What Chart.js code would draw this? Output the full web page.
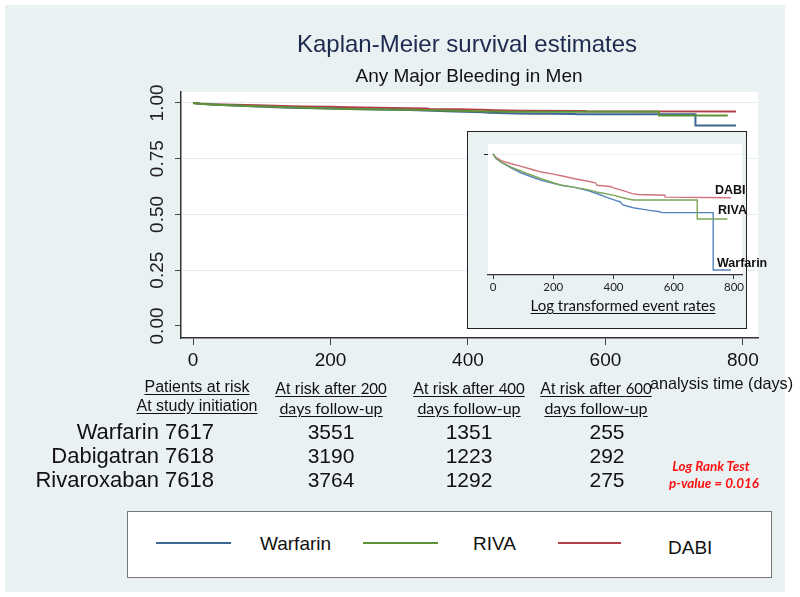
<!DOCTYPE html>
<html>
<head>
<meta charset="utf-8">
<script src="https://cdn.jsdelivr.net/npm/chart.js@4.4.1/dist/chart.umd.min.js"></script>
<style>
  html, body { margin:0; padding:0; background:#ffffff; }
  body { width:800px; height:597px; position:relative; overflow:hidden; font-family:"Liberation Sans", Arial, sans-serif; color:#111; }
  .abs { position:absolute; white-space:nowrap; }
  #bg { position:absolute; left:5px; top:5px; width:780px; height:587px; background:#eaf1f3; }
  #mainCanvas { position:absolute; left:0; top:0; }
  #insetBox { position:absolute; left:467px; top:131px; width:278px; height:196px; border:1.5px solid #222; background:#eaf1f3; }
  #insetCanvas { position:absolute; left:468px; top:132px; }
  .hdr { font-size:16px; text-decoration:underline; text-underline-offset:2px; transform:translateX(-50%); }
  .num { font-size:21px; transform:translate(-50%,-50%); }
  .cal { font-family:Lato, "Open Sans", sans-serif; font-size:15px; }
  #legendBox { position:absolute; left:127px; top:511px; width:643px; height:65px; border:1px solid #777; background:#fff; }
  .legLine { position:absolute; height:2px; }
  .legText { position:absolute; font-size:19px; transform:translateY(-50%); }
  .inLab { position:absolute; font-weight:bold; font-size:12.5px; transform:translateY(-50%); color:#111; }
</style>
</head>
<body>
<div id="bg"></div>
<canvas id="mainCanvas" width="800" height="597"></canvas>
<div id="insetBox"></div>
<canvas id="insetCanvas" width="278" height="196"></canvas>

<div class="abs" style="left:467px;top:44px;transform:translate(-50%,-50%);font-size:24px;color:#1c2a4d;">Kaplan-Meier survival estimates</div>
<div class="abs" style="left:469px;top:76px;transform:translate(-50%,-50%);font-size:19px;color:#111;">Any Major Bleeding in Men</div>

<div id="table"></div>

<div class="abs" style="left:650px;top:383px;transform:translateY(-50%);font-size:16.2px;">analysis time (days)</div>

<div class="abs" style="left:711px;top:466px;transform:translate(-50%,-50%);font-family:Lato,'Open Sans',sans-serif;font-weight:bold;font-style:italic;font-size:13.5px;color:#ff1010;">Log Rank Test</div>
<div class="abs" style="left:714px;top:483px;transform:translate(-50%,-50%);font-family:Lato,'Open Sans',sans-serif;font-weight:bold;font-style:italic;font-size:13.5px;color:#ff1010;">p-value = 0.016</div>

<div class="abs" style="left:623px;top:305px;transform:translate(-50%,-50%);font-family:Lato,'Open Sans',sans-serif;font-size:15px;text-decoration:underline;text-underline-offset:2px;">Log transformed event rates</div>

<div class="inLab" style="left:715px;top:190px;">DABI</div>
<div class="inLab" style="left:718px;top:210px;">RIVA</div>
<div class="inLab" style="left:717px;top:263px;">Warfarin</div>

<div id="legendBox"></div>
<div id="legend"></div>

<script>
// ---------- data ----------
const seriesNames = ["Warfarin", "RIVA", "DABI"];
const seriesColors = ["#3b6792", "#5f9136", "#b43f4b"];
const insetColors  = ["#5584bd", "#7ea657", "#d0737c"];

const warfarinDays = [0, 10, 27, 60, 94, 130, 160, 200, 227, 271, 315, 349, 380, 409, 422, 430, 444, 470, 499, 520, 554, 560, 731, 731, 790];
const warfarinSurv = [1, 0.996, 0.993, 0.988, 0.9835, 0.980, 0.9771, 0.9745, 0.9728, 0.971, 0.9681, 0.9652, 0.962, 0.9594, 0.9585, 0.956, 0.9548, 0.953, 0.9519, 0.951, 0.9498, 0.949, 0.949, 0.8991, 0.8991];

const rivaDays = [0, 10, 27, 60, 94, 130, 160, 200, 227, 271, 315, 349, 399, 430, 466, 678, 678, 778];
const rivaSurv = [1, 0.996, 0.993, 0.9885, 0.985, 0.9815, 0.9785, 0.975, 0.9728, 0.971, 0.969, 0.9667, 0.9643, 0.962, 0.960, 0.960, 0.9435, 0.9435];

const dabiDays = [0, 10, 27, 60, 94, 130, 160, 200, 227, 271, 315, 340, 345, 390, 400, 420, 440, 460, 480, 570, 572, 790];
const dabiSurv = [1, 0.997, 0.9942, 0.9915, 0.9893, 0.9865, 0.9843, 0.9825, 0.9811, 0.9785, 0.9763, 0.975, 0.9728, 0.9718, 0.9705, 0.969, 0.9675, 0.9658, 0.9648, 0.9642, 0.9625, 0.962];

const xTicks = [0, 200, 400, 600, 800];
const yTicks = [0, 0.25, 0.5, 0.75, 1];
const yTickLabels = ["0.00", "0.25", "0.50", "0.75", "1.00"];

const riskHeaders = [
  ["Patients at risk", "At study initiation"],
  ["At risk after ", "200", "days follow-up"],
  ["At risk after ", "400", "days follow-up"],
  ["At risk after ", "600", "days follow-up"]
];
const riskRowLabels = ["Warfarin 7617", "Dabigatran 7618", "Rivaroxaban 7618"];
const riskAt200 = [3551, 3190, 3764];
const riskAt400 = [1351, 1223, 1292];
const riskAt600 = [255, 292, 275];

// ---------- helpers ----------
function pts(d, s) { return d.map((x, i) => ({ x: x, y: s[i] })); }
const allDays = [warfarinDays, rivaDays, dabiDays];
const allSurv = [warfarinSurv, rivaSurv, dabiSurv];
const drawOrder = [1, 0, 2];

function makeDatasets(colors, width) {
  return seriesNames.map((n, i) => ({
    label: n,
    data: pts(allDays[i], allSurv[i]),
    borderColor: colors[i],
    backgroundColor: colors[i],
    borderWidth: width,
    pointRadius: 0,
    tension: 0,
    fill: false,
    order: drawOrder[i]
  }));
}

const whiteArea = {
  id: 'whiteArea',
  beforeDraw(chart) {
    const a = chart.chartArea, c = chart.ctx;
    c.save(); c.fillStyle = '#ffffff';
    c.fillRect(a.left, a.top, a.right - a.left, a.bottom - a.top);
    c.restore();
  }
};

const rotatedYLabels = {
  id: 'rotatedYLabels',
  afterDraw(chart) {
    const s = chart.scales.y, c = chart.ctx;
    c.save();
    c.fillStyle = '#222';
    c.font = '19px "Liberation Sans", Arial, sans-serif';
    c.textAlign = 'center';
    c.textBaseline = 'middle';
    yTicks.forEach((v, i) => {
      const y = s.getPixelForValue(v);
      c.save();
      c.translate(158, y);
      c.rotate(-Math.PI / 2);
      c.fillText(yTickLabels[i], 0, 0);
      c.restore();
    });
    c.restore();
  }
};

// ---------- main chart ----------
new Chart(document.getElementById('mainCanvas'), {
  type: 'line',
  data: { datasets: makeDatasets(seriesColors, 2) },
  options: {
    responsive: false,
    animation: false,
    layout: { padding: { left: 173, right: 42, top: 92, bottom: 219 } },
    plugins: { legend: { display: false }, tooltip: { enabled: false }, title: { display: false } },
    scales: {
      x: {
        type: 'linear', min: -17.5, max: 822,
        afterBuildTicks: s => { s.ticks = xTicks.map(v => ({ value: v })); },
        afterFit: s => { s.height = 40; },
        grid: { drawOnChartArea: false, drawTicks: true, tickLength: 7, tickColor: '#444', lineWidth: 1 },
        border: { display: true, color: '#333', width: 1.5 },
        ticks: { color: '#111', font: { family: '"Liberation Sans", Arial, sans-serif', size: 19 }, padding: 4, maxRotation: 0 }
      },
      y: {
        type: 'linear', min: -0.054, max: 1.049,
        afterBuildTicks: s => { s.ticks = yTicks.map(v => ({ value: v })); },
        afterFit: s => { s.width = 8; },
        grid: {
          drawOnChartArea: true, drawTicks: true, tickLength: 6, tickColor: '#444',
          color: ctx => (ctx.tick && ctx.tick.value === 0) ? 'rgba(0,0,0,0)' : '#e4edf0',
          lineWidth: 1
        },
        border: { display: true, color: '#333', width: 1.5 },
        ticks: { display: false }
      }
    }
  },
  plugins: [whiteArea, rotatedYLabels]
});

// ---------- inset chart ----------
new Chart(document.getElementById('insetCanvas'), {
  type: 'line',
  data: { datasets: makeDatasets(insetColors, 1.4) },
  options: {
    responsive: false,
    animation: false,
    layout: { padding: { left: 16, right: 4, top: 12, bottom: 33 } },
    plugins: { legend: { display: false }, tooltip: { enabled: false } },
    scales: {
      x: {
        type: 'linear', min: -16.6, max: 826.6,
        afterBuildTicks: s => { s.ticks = xTicks.map(v => ({ value: v })); },
        afterFit: s => { s.height = 20; },
        grid: { drawOnChartArea: false, drawTicks: true, tickLength: 4, tickColor: '#333' },
        border: { display: true, color: '#333', width: 1.2 },
        ticks: { color: '#222', font: { family: 'Lato, "Open Sans", sans-serif', size: 11.5 }, padding: 1, maxRotation: 0 }
      },
      y: {
        type: 'linear', min: 0.8948, max: 1.0087,
        afterBuildTicks: s => { s.ticks = [{ value: 1 }]; },
        afterFit: s => { s.width = 4; },
        grid: { drawOnChartArea: true, drawTicks: true, tickLength: 4, tickColor: '#222', color: '#edf3f5' },
        border: { display: false },
        ticks: { display: false }
      }
    }
  },
  plugins: [whiteArea]
});

// ---------- at-risk table ----------
(function () {
  const t = document.getElementById('table');
  const colX = [197, 331, 469, 596];
  let html = '';
  html += `<div class="abs hdr" style="left:${colX[0]}px;top:378px;">${riskHeaders[0][0]}</div>`;
  html += `<div class="abs hdr" style="left:${colX[0]}px;top:397px;">${riskHeaders[0][1]}</div>`;
  for (let c = 1; c < 4; c++) {
    html += `<div class="abs hdr" style="left:${colX[c]}px;top:379px;">${riskHeaders[c][0]}<span class="cal">${riskHeaders[c][1]}</span></div>`;
    html += `<div class="abs hdr cal" style="left:${colX[c]}px;top:398px;font-size:16px;">${riskHeaders[c][2]}</div>`;
  }
  const rowY = [432, 456, 480];
  riskRowLabels.forEach((lab, i) => {
    html += `<div class="abs" style="right:${800 - 214}px;top:${rowY[i]}px;transform:translateY(-50%);font-size:22px;">${lab}</div>`;
    html += `<div class="abs num" style="left:${colX[1]}px;top:${rowY[i]}px;">${riskAt200[i]}</div>`;
    html += `<div class="abs num" style="left:${colX[2]}px;top:${rowY[i]}px;">${riskAt400[i]}</div>`;
    html += `<div class="abs num" style="left:${colX[3] + 11}px;top:${rowY[i]}px;">${riskAt600[i]}</div>`;
  });
  t.innerHTML = html;
})();

// ---------- legend ----------
(function () {
  const L = document.getElementById('legend');
  const lines = [[156, 231], [363, 438], [558, 621]];
  const texts = [[260, 544], [473, 544], [668, 548]];
  let html = '';
  seriesNames.forEach((n, i) => {
    html += `<div class="legLine" style="left:${lines[i][0]}px;top:542px;width:${lines[i][1] - lines[i][0]}px;background:${seriesColors[i]};"></div>`;
    html += `<div class="legText" style="left:${texts[i][0]}px;top:${texts[i][1]}px;">${n}</div>`;
  });
  L.innerHTML = html;
})();
</script>
</body>
</html>
